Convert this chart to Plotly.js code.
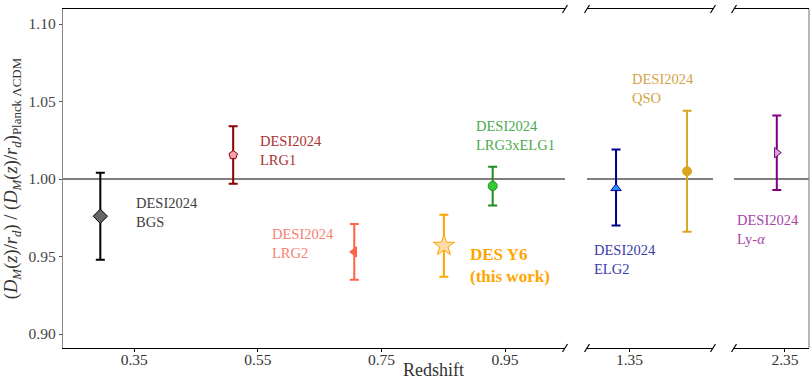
<!DOCTYPE html>
<html>
<head>
<meta charset="utf-8">
<script src="https://cdn.plot.ly/plotly-3.0.1.min.js"></script>
<style>html,body{margin:0;padding:0;background:#fff;}#chart{width:810px;height:382px;}</style>
</head>
<body>
<div id="chart"></div>
<script>
// ---- data ----
const names      = ['BGS', 'LRG1', 'LRG2', 'DES Y6', 'LRG3xELG1', 'ELG2', 'QSO', 'Lya'];
const redshift   = [0.295, 0.51, 0.706, 0.851, 0.93, 1.317, 1.491, 2.33];
const ratio      = [0.976, 1.0155, 0.953, 0.957, 0.9955, 0.994, 1.005, 1.017];
const errPlus    = [0.028, 0.0185, 0.018, 0.020, 0.0125, 0.025, 0.039, 0.024];
const errMinus   = [0.028, 0.0185, 0.018, 0.020, 0.0125, 0.024, 0.039, 0.024];
const panel      = [1, 1, 1, 1, 1, 2, 2, 3];
const labelText  = ['DESI2024<br>BGS', 'DESI2024<br>LRG1', 'DESI2024<br>LRG2', '<b>DES Y6</b><br><b>(this work)</b>',
                    'DESI2024<br>LRG3xELG1', 'DESI2024<br>ELG2', 'DESI2024<br>QSO', 'DESI2024<br>Ly-<i>α</i>'];
const labelX     = [0.35, 0.55, 0.5696, 0.8905, 0.8997, 1.2588, 1.351, 2.2275];
const labelY     = [0.9787, 1.0187, 0.9584, 0.9445, 1.0284, 0.9484, 1.0585, 0.9677];
const xTickVals1 = [0.35, 0.55, 0.75, 0.95];
const xTickVals2 = [1.35];
const xTickVals3 = [2.35];
const yTickVals  = [0.90, 0.95, 1.00, 1.05, 1.10];

// ---- styles ----
const symbols   = ['diamond', 'pentagon', 'triangle-left', 'star', 'circle', 'triangle-up', 'circle', 'triangle-right'];
const sizes     = [11, 9, 9, 16, 9, 9, 9, 9];
const fills     = ['#666666', '#f4a3ae', '#ff6347', '#fcdcaa', '#32cd32', '#1e90ff', '#daa520', '#cfa6d4'];
const edges     = ['#000000', '#8b0000', '#ff6347', '#ffa500', '#228b22', '#00008b', '#daa520', '#800080'];
const errColors = ['#000000', '#8b0000', '#ff6347', '#ffa500', '#228b22', '#00008b', '#daa520', '#800080'];
const labelCols = ['#404040', '#a83232', '#fa8072', '#ffa500', '#4caa4c', '#3a3aad', '#d4a445', '#a845a8'];
const labelSize = [14.5, 14.5, 14.5, 17, 14.5, 14.5, 14.5, 14.5];

const FONT = 'Liberation Serif';
const axSuffix = p => (p === 1 ? '' : String(p));

const traces = names.map((n, i) => ({
  type: 'scatter', mode: 'markers', name: n,
  x: [redshift[i]], y: [ratio[i]],
  xaxis: 'x' + axSuffix(panel[i]), yaxis: 'y',
  marker: {symbol: symbols[i], size: sizes[i], color: fills[i], line: {color: edges[i], width: 1}},
  error_y: {type: 'data', symmetric: false, array: [errPlus[i]], arrayminus: [errMinus[i]],
            color: errColors[i], thickness: 2, width: 4.5},
  showlegend: false, cliponaxis: false
}));

const annotations = names.map((n, i) => ({
  x: labelX[i], y: labelY[i], xref: 'x' + axSuffix(panel[i]), yref: 'y',
  text: labelText[i], showarrow: false, xanchor: 'left', yanchor: 'middle', align: 'left',
  font: {family: FONT, size: labelSize[i], color: labelCols[i]}
}));
annotations.push({
  x: 0.497, y: 0, xref: 'paper', yref: 'paper', yshift: -33, yanchor: 'bottom', showarrow: false,
  text: 'Redshift', font: {family: FONT, size: 18, color: '#333'}, borderpad: 0
});

const shapes = [];
['x', 'x2', 'x3'].forEach(ax => {
  shapes.push({type: 'line', xref: ax + ' domain', yref: 'y', x0: 0, x1: 1, y0: 1, y1: 1,
               line: {color: '#555555', width: 1.5}, layer: 'below'});
});
// right spine of last panel
shapes.push({type: 'line', xref: 'x3 domain', yref: 'paper', x0: 1, x1: 1, y0: 0, y1: 1,
             line: {color: '#888888', width: 1.2}});
// break marks
const breaks = [['x', 1], ['x2', 0], ['x2', 1], ['x3', 0]];
breaks.forEach(([ax, pos]) => {
  [0, 1].forEach(yp => {
    shapes.push({type: 'line', xref: ax + ' domain', yref: 'paper', xsizemode: 'pixel', ysizemode: 'pixel',
                 xanchor: pos, yanchor: yp, x0: -2.5, x1: 2.5, y0: -4, y1: 4,
                 line: {color: '#000', width: 1.2}});
  });
});

const xCommon = {
  showline: true, mirror: true, linecolor: '#000', linewidth: 1.2,
  ticks: 'outside', ticklen: 3, tickcolor: '#000', showgrid: false, zeroline: false,
  tickfont: {family: FONT, size: 15.5, color: '#333'}, anchor: 'y', fixedrange: true,
  ticklabelstandoff: -6
};

const layout = {
  width: 810, height: 382,
  margin: {l: 63, r: 1, t: 9, b: 34},
  paper_bgcolor: '#fff', plot_bgcolor: '#fff',
  showlegend: false,
  xaxis:  Object.assign({}, xCommon, {domain: [0, 0.6729], range: [0.2346, 1.047], tickvals: xTickVals1, ticktext: xTickVals1.map(v => v.toFixed(2))}),
  xaxis2: Object.assign({}, xCommon, {domain: [0.7024, 0.8713], range: [1.2458, 1.5546], tickvals: xTickVals2, ticktext: xTickVals2.map(v => v.toFixed(2))}),
  xaxis3: Object.assign({}, xCommon, {domain: [0.8995, 1.0], range: [2.225, 2.409], tickvals: xTickVals3, ticktext: xTickVals3.map(v => v.toFixed(2))}),
  yaxis: {
    domain: [0, 1], range: [0.891, 1.1097], anchor: 'x',
    showline: true, linecolor: '#888888', linewidth: 1.2,
    ticks: 'outside', ticklen: 3, tickcolor: '#555', showgrid: false, zeroline: false,
    tickvals: yTickVals, ticktext: yTickVals.map(v => v.toFixed(2)),
    tickfont: {family: FONT, size: 15.5, color: '#444'},
    title: {text: '(<i>D<sub>M</sub></i>(<i>z</i>)/<i>r<sub>d</sub></i>) / (<i>D<sub>M</sub></i>(<i>z</i>)/<i>r<sub>d</sub></i>)<sub>Planck ΛCDM</sub>',
            font: {family: FONT, size: 18.5, color: '#333'}, standoff: 6},
    fixedrange: true
  },
  annotations: annotations,
  shapes: shapes
};

Plotly.newPlot('chart', traces, layout, {displayModeBar: false, staticPlot: true});
</script>
</body>
</html>
